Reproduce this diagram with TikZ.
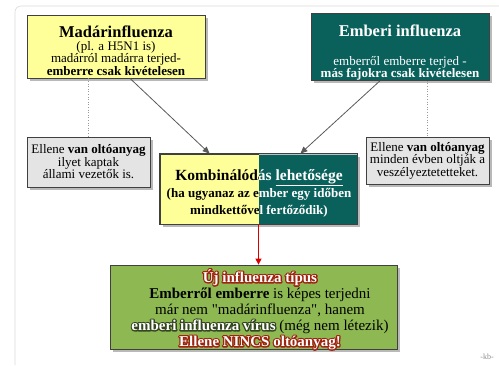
\documentclass[tikz,border=0pt]{standalone}
\usepackage{fontspec}
\setmainfont{Liberation Serif}[Ligatures=TeXOff]
\usetikzlibrary{shadows,arrows.meta,calc}
\definecolor{byellow}{HTML}{FFFF99}
\definecolor{bteal}{HTML}{0A615C}
\definecolor{btealinv}{HTML}{F59EA3}
\definecolor{bgrey}{HTML}{E4E4E4}
\definecolor{bgreen}{HTML}{8DB852}
\definecolor{glowred}{HTML}{9E2410}
\definecolor{glowgreen}{HTML}{34461F}
\newcommand{\glowtext}[2]{\leavevmode\rlap{\color{#1}\special{pdf:literal direct 2 Tr 2.6 w 1 j 1 J}#2\special{pdf:literal direct 0 Tr}}\textcolor{white}{#2}}
\newcommand{\glowpart}[3]{\leavevmode\rlap{\color{#1}\special{pdf:literal direct 2 Tr 2.6 w 1 j 1 J}#2\special{pdf:literal direct 3 Tr}#3\special{pdf:literal direct 0 Tr}}\textcolor{white}{#2}#3}
\tikzset{
  box/.style={draw=black!75, line width=0.8pt, rectangle, inner sep=0pt, align=center,
    drop shadow={shadow xshift=2.5pt, shadow yshift=-2.5pt, fill=black!50, opacity=0.55}},
  bodyfont/.style={font=\fontsize{13}{12.5}\selectfont},
  link/.style={draw=black!65, line width=0.8pt, -{Triangle[length=7pt,width=6pt]}},
  dotlink/.style={draw=black!40, line width=0.6pt, dotted},
  redlink/.style={draw=red!85!black, line width=1.2pt, -{Triangle[length=6pt,width=6pt]}},
  combotext/.style={align=center, inner sep=0pt, font=\fontsize{13}{17}\selectfont\bfseries},
}
\begin{document}
\begin{tikzpicture}[x=1pt,y=-1pt]
\useasboundingbox (0,0) rectangle (499,365);
\draw[black!15, line width=0.6pt, rounded corners=6pt] (499,6) -- (15,6) -- (15,365);

\node[box, bodyfont, fill=byellow, minimum width=178pt, minimum height=63pt] (madar) at (116,46.5)
  {\rule{0pt}{20pt}{\fontsize{16.5}{16}\selectfont\bfseries Madárinfluenza}\\ (pl. a H5N1 is)\\ madárról madárra terjed-\\ \textbf{emberre csak kivételesen}};

\node[box, bodyfont, fill=bteal, text=white, minimum width=178pt, minimum height=64pt] (ember) at (400,47)
  {\rule{0pt}{23pt}{\fontsize{16.5}{16}\selectfont\bfseries Emberi influenza}\\[16pt] emberről emberre terjed -\\ \textbf{más fajokra csak kivételesen}};

\node[box, bodyfont, fill=bgrey, minimum width=123pt, minimum height=50pt] (leftgrey) at (88.5,162)
  {Ellene \textbf{van oltóanyag}\\ ilyet kaptak\\ állami vezetők is.};

\node[box, bodyfont, fill=bgrey, minimum width=123pt, minimum height=47pt] (rightgrey) at (427.5,160.5)
  {Ellene \textbf{van oltóanyag}\\ minden évben oltják a\\ veszélyeztetetteket.};

\node[box, fill=byellow, minimum width=197pt, minimum height=70pt,
  path picture={\fill[btealinv] (path picture bounding box.north) rectangle (path picture bounding box.south east);}] (combo) at (258.5,189) {};
\node[combotext, text=black] (kombi) at (259,193.5)
  {{\fontsize{15.5}{17}\selectfont Kombinálódás \underline{lehetősége}}\\ (ha ugyanaz az ember egy időben\\ mindkettővel fertőződik)};
\begin{scope}[blend mode=difference]
  \fill[white] (combo.north) rectangle (combo.south east);
\end{scope}
\draw[black!75, line width=0.8pt] (combo.north west) rectangle (combo.south east);

\node[box, fill=bgreen, minimum width=287pt, minimum height=84pt] (green) at (253.5,307) {};
\node[align=center, inner sep=0pt, font=\fontsize{15}{16}\selectfont] (greentext) at (260,309.5)
  {\glowtext{glowred}{\textbf{Új influenza típus}}\\
   \textbf{Emberről emberre} is képes terjedni\\
   már nem "madárinfluenza", hanem\\
   \glowpart{glowgreen}{\textbf{emberi influenza vírus}}{ (még nem létezik)}\\
   \glowtext{glowred}{\textbf{Ellene NINCS oltóanyag!}}};

\draw[dotlink] (leftgrey.north |- madar.south) -- (leftgrey.north);
\draw[dotlink] (rightgrey.north |- ember.south) -- (rightgrey.north);
\draw[link] ($(madar.south)+(14,0)$) -- ($(combo.north west)+(50,0)$);
\draw[link] ($(ember.south)+(-20,0)$) -- ($(combo.north east)+(-57,0)$);
\draw[redlink] (combo.south) -- (combo.south |- green.north);

\node[text=black!45, font=\fontsize{8}{8}\selectfont] (kb) at (487,357) {-kb-};
\end{tikzpicture}
\end{document}
